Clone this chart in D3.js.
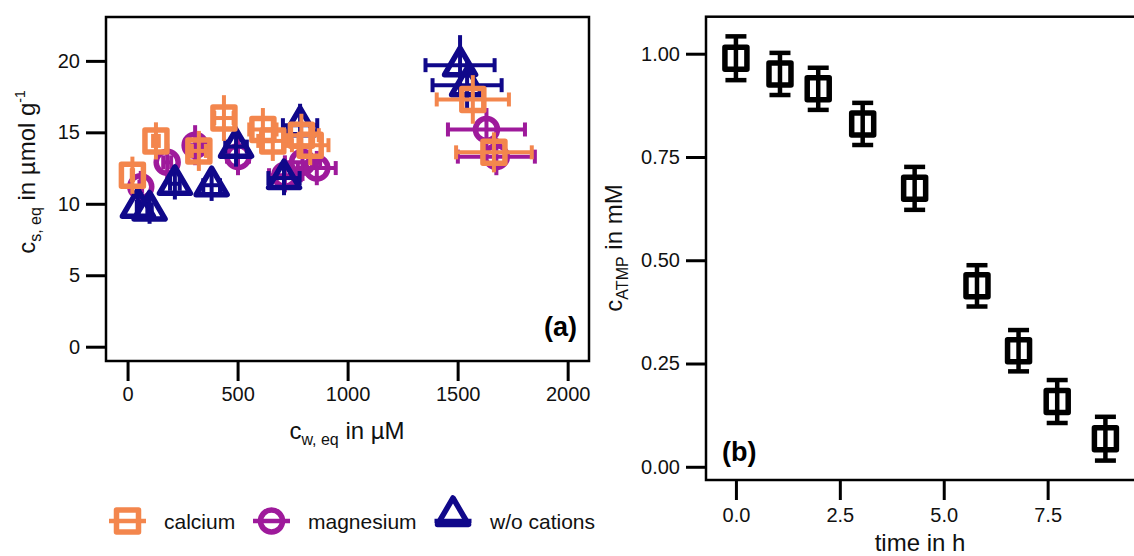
<!DOCTYPE html>
<html>
<head>
<meta charset="utf-8">
<script src="https://cdn.jsdelivr.net/npm/d3@7"></script>
<style>
  html, body { margin: 0; padding: 0; background: #fff; }
  svg { display: block; font-family: "Liberation Sans", Arial, sans-serif; }
</style>
</head>
<body>
<svg id="chart" width="1134" height="556"></svg>
<script>
// ---------------- DATA ----------------
// Panel (a): equilibrium isotherm points
const seriesNames = ["calcium", "magnesium", "w/o cations"];
const seriesColors = ["#f3864d", "#9e1a9b", "#10088a"];

const caX    = [22, 129, 324, 438, 615, 660, 790, 830, 1569, 1665];
const caY    = [12.0, 14.4, 13.7, 16.0, 15.2, 14.4, 14.8, 14.1, 17.3, 13.6];
const caXerr = [3, 13, 32, 44, 62, 66, 79, 83, 164, 172];
const caYerr = [1.3, 1.3, 1.4, 1.6, 1.5, 1.4, 1.5, 1.4, 1.7, 1.4];

const mgX    = [60, 180, 307, 502, 715, 795, 860, 1631, 1676];
const mgY    = [11.2, 12.9, 14.1, 13.3, 12.0, 12.9, 12.5, 15.2, 13.3];
const mgXerr = [6, 18, 31, 50, 72, 80, 86, 175, 175];
const mgYerr = [1.1, 1.3, 1.4, 1.3, 1.2, 1.3, 1.2, 1.5, 1.3];

const woX    = [47, 100, 215, 382, 493, 711, 784, 1511, 1543];
const woY    = [9.8, 9.6, 11.4, 11.3, 14.0, 11.8, 15.5, 19.7, 18.3];
const woXerr = [5, 10, 22, 38, 49, 71, 78, 157, 157];
const woYerr = [1.0, 1.0, 1.1, 1.1, 1.4, 1.2, 1.5, 2.1, 1.8];

const aXTicks = [0, 500, 1000, 1500, 2000];
const aYTicks = [0, 5, 10, 15, 20];

// Panel (b): ATMP concentration over time
const timeH   = [0, 1.06, 1.98, 3.05, 4.30, 5.80, 6.80, 7.73, 8.89];
const cATMP   = [0.989, 0.951, 0.915, 0.830, 0.674, 0.438, 0.281, 0.158, 0.068];
const cATMPerr= [0.053, 0.051, 0.051, 0.051, 0.052, 0.050, 0.050, 0.052, 0.053];

const bXTicks = [0, 2.5, 5.0, 7.5];
const bYTicks = [0, 0.25, 0.5, 0.75, 1.0];

// ---------------- SCALES ----------------
const svg = d3.select("#chart");
const A = {l: 106, r: 589, t: 17, b: 361};
const B = {l: 706, r: 1137, t: 16.7, b: 480};

const xa = d3.scaleLinear().domain([-98, 2097]).range([A.l, A.r]);
const ya = d3.scaleLinear().domain([-1.0, 23.07]).range([A.b, A.t]);
const xb = d3.scaleLinear().domain([-0.72, 9.65]).range([B.l, B.r]);
const yb = d3.scaleLinear().domain([-0.032, 1.0896]).range([B.b, B.t]);

// ---------------- HELPERS ----------------
function styleAxis(g) {
  g.select(".domain").remove();
  g.selectAll(".tick line").attr("stroke", "#000").attr("stroke-width", 3);
  g.selectAll(".tick text").attr("fill", "#111").style("font-size", "20px")
    .style("font-family", '"Liberation Sans", Arial, sans-serif');
}

function markerPath(shape) {
  if (shape === "square") {
    const h = 11;
    return `M${-h},${-h}H${h}V${h}H${-h}Z`;
  } else if (shape === "circle") {
    const r = 11;
    return `M${r},0A${r},${r} 0 1,1 ${-r},0A${r},${r} 0 1,1 ${r},0Z`;
  } else {
    return `M0,-17L15.5,9.5L-15.5,9.5Z`;
  }
}

// ---------------- PANEL (a) ----------------
const ga = svg.append("g");
ga.append("g").attr("transform", `translate(0,${A.b})`)
  .call(d3.axisBottom(xa).tickValues(aXTicks).tickSize(20).tickPadding(6).tickFormat(d3.format("d")))
  .call(styleAxis);
ga.append("g").attr("transform", `translate(${A.l},0)`)
  .call(d3.axisLeft(ya).tickValues(aYTicks).tickSize(20).tickPadding(6).tickFormat(d3.format("d")))
  .call(styleAxis);

svg.append("defs").append("clipPath").attr("id", "clipA")
  .append("rect").attr("x", A.l).attr("y", A.t).attr("width", A.r - A.l).attr("height", A.b - A.t);

const series = [
  {name: seriesNames[1], color: seriesColors[1], shape: "circle", x: mgX, y: mgY, xe: mgXerr, ye: mgYerr},
  {name: seriesNames[2], color: seriesColors[2], shape: "triangle", x: woX, y: woY, xe: woXerr, ye: woYerr},
  {name: seriesNames[0], color: seriesColors[0], shape: "square", x: caX, y: caY, xe: caXerr, ye: caYerr}
];

const plotA = ga.append("g").attr("clip-path", "url(#clipA)");
series.forEach(s => {
  const pts = s.x.map((v, i) => ({x: v, y: s.y[i], xe: s.xe[i], ye: s.ye[i]}));
  const g = plotA.append("g");
  pts.forEach(p => {
    const cx = xa(p.x), cy = ya(p.y);
    g.append("line").attr("x1", xa(p.x - p.xe)).attr("x2", xa(p.x + p.xe))
      .attr("y1", cy).attr("y2", cy).attr("stroke", s.color).attr("stroke-width", 4);
    [p.x - p.xe, p.x + p.xe].forEach(e => {
      g.append("line").attr("x1", xa(e)).attr("x2", xa(e)).attr("y1", cy - 7).attr("y2", cy + 7)
        .attr("stroke", s.color).attr("stroke-width", 4);
    });
    g.append("line").attr("x1", cx).attr("x2", cx)
      .attr("y1", ya(p.y + p.ye)).attr("y2", ya(p.y - p.ye))
      .attr("stroke", s.color).attr("stroke-width", 4);
    g.append("path").attr("d", markerPath(s.shape)).attr("transform", `translate(${cx},${cy})`)
      .attr("fill", "none").attr("stroke", s.color).attr("stroke-width", 5.5)
      .attr("stroke-linejoin", "round");
  });
});

ga.append("rect").attr("x", A.l).attr("y", A.t).attr("width", A.r - A.l).attr("height", A.b - A.t)
  .attr("fill", "none").attr("stroke", "#000").attr("stroke-width", 2.5);

ga.append("text").attr("x", 577).attr("y", 336).attr("text-anchor", "end")
  .style("font-size", "27px").style("font-weight", "bold").text("(a)");

// axis titles (a)
const xtA = ga.append("text").attr("x", 347).attr("y", 439).attr("text-anchor", "middle")
  .style("font-size", "24px").attr("fill", "#111");
xtA.append("tspan").text("c");
xtA.append("tspan").attr("dy", 6).style("font-size", "16px").text("w, eq");
xtA.append("tspan").attr("dy", -6).text(" in µM");

const ytA = ga.append("text").attr("transform", `translate(35,172) rotate(-90)`)
  .attr("text-anchor", "middle").style("font-size", "24px").attr("fill", "#111");
ytA.append("tspan").text("c");
ytA.append("tspan").attr("dy", 6).style("font-size", "16px").text("s, eq");
ytA.append("tspan").attr("dy", -6).text(" in µmol g");
ytA.append("tspan").attr("dy", -10).style("font-size", "14px").text("-1");

// legend
const legendItems = [
  {name: seriesNames[0], color: seriesColors[0], shape: "square", mx: 127.5, my: 521, lx: 164},
  {name: seriesNames[1], color: seriesColors[1], shape: "circle", mx: 271.5, my: 521, lx: 308},
  {name: seriesNames[2], color: seriesColors[2], shape: "triangle", mx: 453, my: 515, lx: 490}
];
const lg = svg.append("g");
legendItems.forEach(it => {
  lg.append("line").attr("x1", it.mx - 18.5).attr("x2", it.mx + 18.5).attr("y1", 521).attr("y2", 521)
    .attr("stroke", it.color).attr("stroke-width", 4.5);
  lg.append("path").attr("d", markerPath(it.shape)).attr("transform", `translate(${it.mx},${it.my})`)
    .attr("fill", "none").attr("stroke", it.color).attr("stroke-width", 5.5).attr("stroke-linejoin", "round");
  lg.append("text").attr("x", it.lx).attr("y", 529).style("font-size", "21px").attr("fill", "#111").text(it.name);
});

// ---------------- PANEL (b) ----------------
const gb = svg.append("g");
gb.append("g").attr("transform", `translate(0,${B.b})`)
  .call(d3.axisBottom(xb).tickValues(bXTicks).tickSize(20).tickPadding(8).tickFormat(d3.format(".1f")))
  .call(styleAxis);
gb.append("g").attr("transform", `translate(${B.l},0)`)
  .call(d3.axisLeft(yb).tickValues(bYTicks).tickSize(20).tickPadding(6).tickFormat(d3.format(".2f")))
  .call(styleAxis);

const ptsB = timeH.map((t, i) => ({t, c: cATMP[i], e: cATMPerr[i]}));
const pb = gb.append("g");
ptsB.forEach(p => {
  const cx = xb(p.t), cy = yb(p.c);
  pb.append("line").attr("x1", cx).attr("x2", cx).attr("y1", yb(p.c + p.e)).attr("y2", yb(p.c - p.e))
    .attr("stroke", "#000").attr("stroke-width", 4.5);
  [p.c + p.e, p.c - p.e].forEach(e => {
    pb.append("line").attr("x1", cx - 10.5).attr("x2", cx + 10.5).attr("y1", yb(e)).attr("y2", yb(e))
      .attr("stroke", "#000").attr("stroke-width", 4.5);
  });
  pb.append("path").attr("d", markerPath("square")).attr("transform", `translate(${cx},${cy})`)
    .attr("fill", "none").attr("stroke", "#000").attr("stroke-width", 5.5).attr("stroke-linejoin", "round");
});

gb.append("rect").attr("x", B.l).attr("y", B.t).attr("width", B.r - B.l).attr("height", B.b - B.t)
  .attr("fill", "none").attr("stroke", "#000").attr("stroke-width", 2.5);

gb.append("text").attr("x", 722).attr("y", 461).style("font-size", "27px").style("font-weight", "bold").text("(b)");

gb.append("text").attr("x", 920).attr("y", 551).attr("text-anchor", "middle")
  .style("font-size", "24px").attr("fill", "#111").text("time in h");

const ytB = gb.append("text").attr("transform", `translate(622,248) rotate(-90)`)
  .attr("text-anchor", "middle").style("font-size", "24px").attr("fill", "#111");
ytB.append("tspan").text("c");
ytB.append("tspan").attr("dy", 6).style("font-size", "16px").text("ATMP");
ytB.append("tspan").attr("dy", -6).text(" in mM");
</script>
</body>
</html>
